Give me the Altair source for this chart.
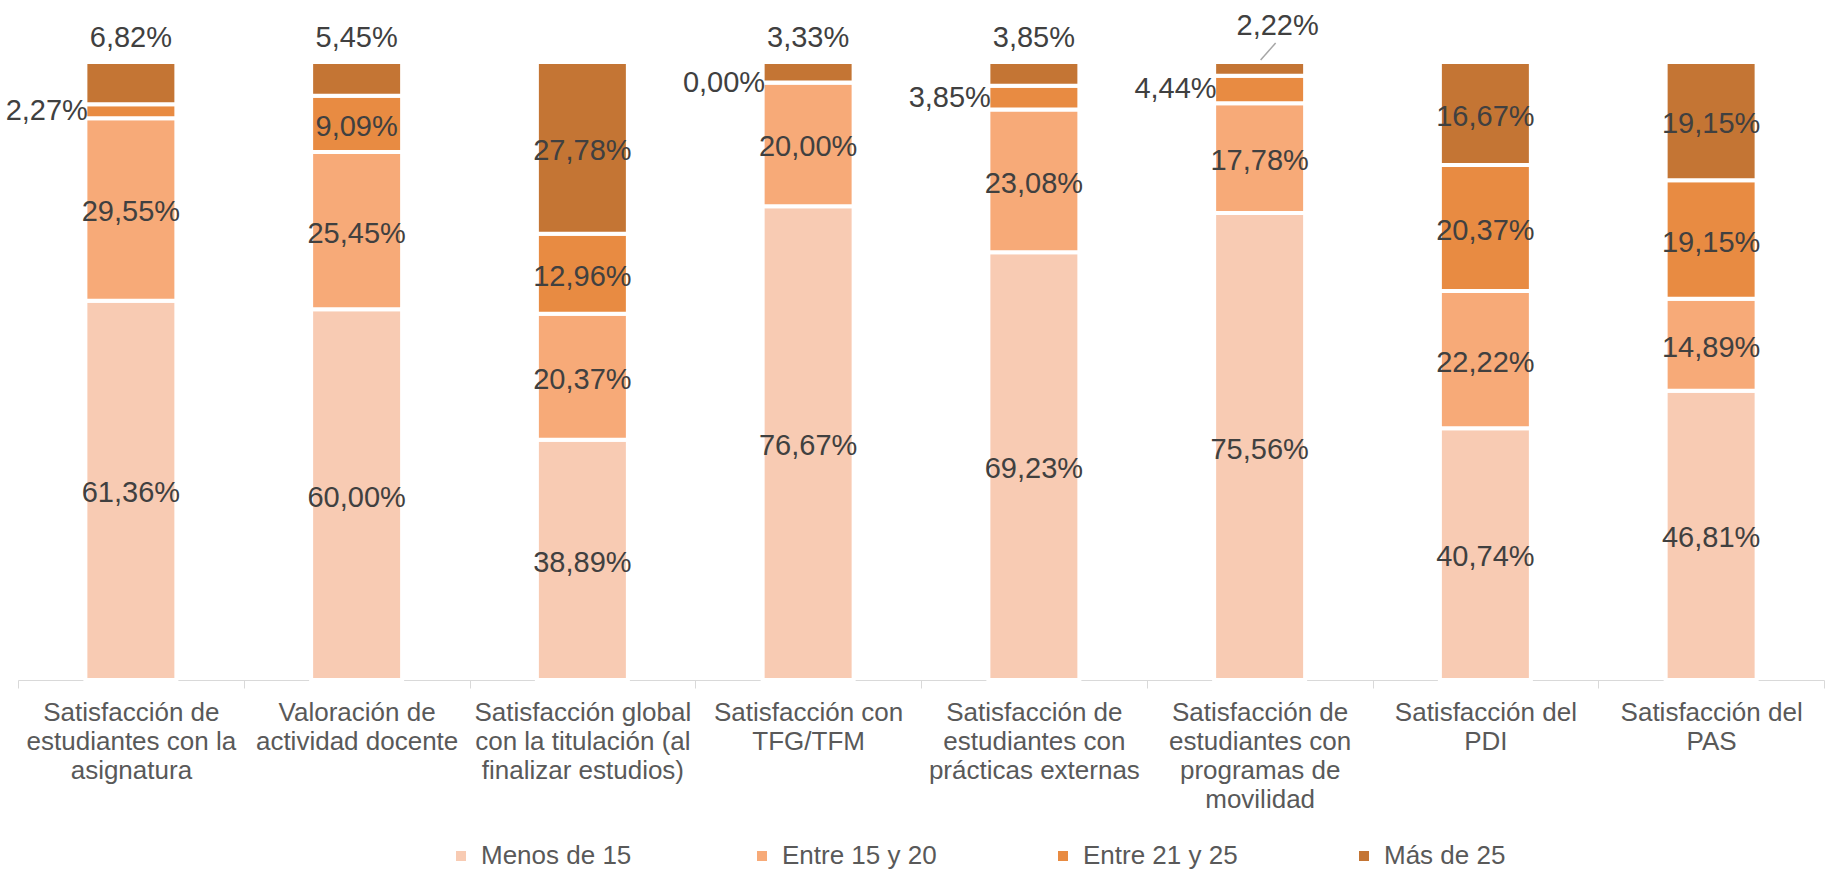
import altair as alt
import pandas as pd

categories = [
    "Satisfacción de\nestudiantes con la\nasignatura",
    "Valoración de\nactividad docente",
    "Satisfacción global\ncon la titulación (al\nfinalizar estudios)",
    "Satisfacción con\nTFG/TFM",
    "Satisfacción de\nestudiantes con\nprácticas externas",
    "Satisfacción de\nestudiantes con\nprogramas de\nmovilidad",
    "Satisfacción del\nPDI",
    "Satisfacción del\nPAS",
]
series = ["Menos de 15", "Entre 15 y 20", "Entre 21 y 25", "Más de 25"]
colors = ["#F8CBB3", "#F7AA78", "#E88B42", "#C47534"]

menos_15 = [61.36, 60.00, 38.89, 76.67, 69.23, 75.56, 40.74, 46.81]
entre_15_20 = [29.55, 25.45, 20.37, 20.00, 23.08, 17.78, 22.22, 14.89]
entre_21_25 = [2.27, 9.09, 12.96, 0.00, 3.85, 4.44, 20.37, 19.15]
mas_25 = [6.82, 5.45, 27.78, 3.33, 3.85, 2.22, 16.67, 19.15]

values = [menos_15, entre_15_20, entre_21_25, mas_25]
rows = []
for si, (s, vals) in enumerate(zip(series, values)):
    for c, v in zip(categories, vals):
        rows.append({"cat": c, "series": s, "order": si, "value": v})
df = pd.DataFrame(rows)

FONT = "Liberation Sans"
x_enc = alt.X(
    "cat:N",
    sort=categories,
    scale=alt.Scale(paddingInner=0, paddingOuter=0),
    axis=alt.Axis(
        title=None,
        labelAngle=0,
        labelExpr="split(datum.label, '\\n')",
        labelFont=FONT,
        labelFontSize=26,
        labelLineHeight=29,
        labelColor="#595959",
        labelLimit=0,
        labelPadding=11,
        labelBaseline="top",
        tickBand="extent",
        ticks=True,
        tickSize=8,
        tickColor="#d9d9d9",
        domainColor="#d9d9d9",
        domainWidth=1,
        grid=False,
    ),
)
y_scale = alt.Scale(domain=[0, 100], nice=False, zero=True)
x_plain = alt.X("cat:N", sort=categories)

base = alt.Chart(df)

bars = base.mark_bar(size=91, stroke="white", strokeWidth=4).encode(
    x=x_enc,
    y=alt.Y("value:Q", stack="zero", scale=y_scale, axis=None),
    color=alt.Color(
        "series:N",
        sort=series,
        scale=alt.Scale(domain=series, range=colors),
        legend=alt.Legend(
            title=None,
            orient="none",
            legendX=430,
            legendY=781,
            direction="horizontal",
            columns=4,
            gridAlign="all",
            columnPadding=113,
            symbolType="square",
            symbolSize=100,
            symbolStrokeWidth=0,
            labelFont=FONT,
            labelFontSize=26,
            labelColor="#595959",
            labelOffset=7,
        ),
    ),
    order=alt.Order("order:Q", sort="ascending"),
)

lab = (
    base.transform_stack(
        stack="value",
        groupby=["cat"],
        as_=["y0", "y1"],
        sort=[alt.SortField("order", "ascending")],
    )
    .transform_calculate(
        mid="(datum.y0 + datum.y1) / 2",
        label="replace(format(datum.value, '.2f'), '.', ',') + '%'",
        pos="(datum.series == 'Más de 25' && datum.value < 3) ? 'tiny' : "
        "((datum.series == 'Más de 25' && datum.value < 7) ? 'above' : "
        "((datum.value < 5) ? 'left' : 'center'))",
    )
)

txt_common = dict(font=FONT, fontSize=29, color="#404040")

center_txt = lab.transform_filter("datum.pos == 'center'").mark_text(
    align="center", baseline="middle", dy=3, **txt_common
).encode(x=x_plain, y=alt.Y("mid:Q", scale=y_scale), text="label:N")

left_txt = lab.transform_filter("datum.pos == 'left'").mark_text(
    align="right", baseline="middle", dx=-43, **txt_common
).encode(x=x_plain, y=alt.Y("mid:Q", scale=y_scale), text="label:N")

above_txt = lab.transform_filter("datum.pos == 'above'").mark_text(
    align="center", baseline="middle", dy=-24, **txt_common
).encode(x=x_plain, y=alt.Y("y1:Q", scale=y_scale), text="label:N")

tiny_txt = lab.transform_filter("datum.pos == 'tiny'").mark_text(
    align="center", baseline="middle", dx=18, dy=-36, **txt_common
).encode(x=x_plain, y=alt.Y("y1:Q", scale=y_scale), text="label:N")

leader = lab.transform_filter("datum.pos == 'tiny'").mark_rule(
    color="#A6A6A6", strokeWidth=1.5,
    xOffset=1, x2Offset=16, yOffset=-2, y2Offset=-19,
).encode(
    x=x_plain,
    x2=alt.X2("cat:N"),
    y=alt.Y("y1:Q", scale=y_scale),
    y2=alt.Y2("y1:Q"),
)

chart = (
    alt.layer(bars, center_txt, left_txt, above_txt, tiny_txt, leader)
    .properties(
        width=1806,
        height=618,
        padding={"left": 18, "top": 62, "right": 2, "bottom": 190},
        autosize=alt.AutoSizeParams(type="none"),
    )
    .configure_view(stroke=None)
)

chart.save("out.html", embed_options={"renderer": "svg", "actions": False})
